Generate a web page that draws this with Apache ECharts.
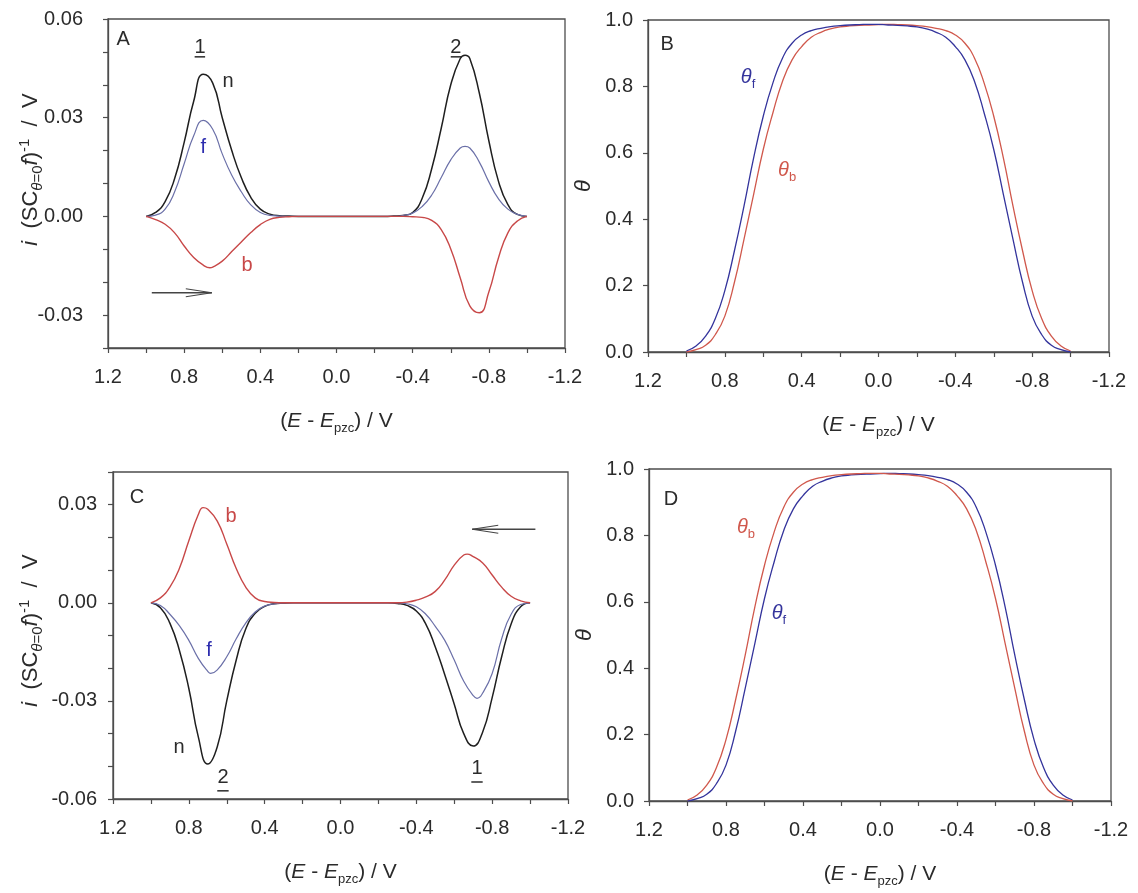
<!DOCTYPE html>
<html><head><meta charset="utf-8">
<script src="https://cdn.jsdelivr.net/npm/echarts@6/dist/echarts.min.js"></script>
<style>html,body{margin:0;padding:0;background:#fff}#c{width:1138px;height:893px}</style>
</head><body><div id="c"></div>
<script>
// ---------- data ----------
const E = [1.00,0.95,0.90,0.85,0.80,0.75,0.70,0.65,0.60,0.55,0.50,0.45,0.40,0.35,0.30,0.25,0.20,0.15,0.10,0.05,0.00,
           -0.05,-0.10,-0.15,-0.20,-0.25,-0.30,-0.35,-0.40,-0.45,-0.50,-0.55,-0.60,-0.65,-0.70,-0.75,-0.80,-0.85,-0.90,-0.95,-1.00];

// Panel A (forward scan)
const A_n = [0,0.0012,0.0045,0.0115,0.0225,0.0350,0.0432,0.0405,0.0300,0.0200,0.0118,0.0058,0.0022,0.0007,0.0002,0.0001,0,0,0,0,0,
             0,0,0,0,0,0.0001,0.0003,0.0012,0.0055,0.0145,0.0268,0.0400,0.0480,0.0480,0.0375,0.0230,0.0108,0.0036,0.0006,0];
const A_f = [0,0.0004,0.0022,0.0075,0.0160,0.0245,0.0292,0.0265,0.0190,0.0125,0.0075,0.0035,0.0012,0.0003,0.0001,0,0,0,0,0,0,
             0,0,0,0,0,0,0.0003,0.0010,0.0030,0.0065,0.0118,0.0172,0.0208,0.0208,0.0165,0.0105,0.0054,0.0022,0.0006,0];
const A_b = [0,-0.0010,-0.0024,-0.0050,-0.0090,-0.0125,-0.0148,-0.0154,-0.0136,-0.0107,-0.0078,-0.0049,-0.0025,-0.0009,-0.0003,-0.0001,0,0,0,0,0,
             0,0,0,0,0,0,0,-0.0001,-0.0003,-0.0012,-0.0040,-0.0099,-0.0187,-0.0272,-0.0293,-0.0230,-0.0127,-0.0050,-0.0014,0];
const A_n_peaks = [[-0.675, 0.0490]];
const A_f_peaks = [[-0.675, 0.0213]];
const A_b_peaks = [[0.665, -0.0156]];

// Panel B (coverage, forward scan)
const B_tf = [0.003,0.018,0.048,0.100,0.185,0.305,0.440,0.585,0.710,0.810,0.885,0.930,0.955,0.968,0.975,0.980,0.983,0.985,0.986,0.987,0.987,
              0.985,0.984,0.982,0.979,0.973,0.963,0.948,0.920,0.880,0.815,0.720,0.610,0.475,0.340,0.210,0.108,0.052,0.020,0.007,0];
const B_tb = [0,0.007,0.020,0.052,0.108,0.210,0.340,0.475,0.610,0.720,0.815,0.880,0.920,0.948,0.963,0.973,0.979,0.982,0.984,0.985,0.986,
              0.987,0.986,0.985,0.983,0.980,0.975,0.968,0.955,0.930,0.885,0.810,0.710,0.585,0.440,0.305,0.185,0.100,0.048,0.018,0.003];

// Panel C (backward scan)
const C_n = [0,-0.0015,-0.0062,-0.0145,-0.0262,-0.0410,-0.0493,-0.0440,-0.0300,-0.0175,-0.0080,-0.0032,-0.0011,-0.0003,-0.0001,0,0,0,0,0,0,
             0,0,0,0,0,-0.0002,-0.0008,-0.0025,-0.0065,-0.0135,-0.0220,-0.0310,-0.0400,-0.0438,-0.0395,-0.0290,-0.0165,-0.0065,-0.0012,0];
const C_f = [0,-0.0008,-0.0035,-0.0070,-0.0115,-0.0170,-0.0210,-0.0205,-0.0165,-0.0110,-0.0062,-0.0028,-0.0010,-0.0003,-0.0001,0,0,0,0,0,0,
             0,0,0,0,0,0,-0.0003,-0.0012,-0.0035,-0.0072,-0.0115,-0.0175,-0.0240,-0.0284,-0.0276,-0.0216,-0.0110,-0.0035,-0.0005,0];
const C_b = [0,0.0015,0.0048,0.0105,0.0190,0.0270,0.0286,0.0250,0.0180,0.0105,0.0048,0.0015,0.0004,0.0001,0,0,0,0,0,0,0,
             0,0,0,0,0,0,0.0002,0.0008,0.0018,0.0035,0.0070,0.0115,0.0146,0.0141,0.0122,0.0085,0.0048,0.0020,0.0006,0];
const C_n_peaks = [];
const C_f_peaks = [[0.685, -0.0216], [-0.720, -0.0292]];
const C_b_peaks = [[0.725, 0.0291], [-0.668, 0.0149]];

// Panel D (coverage, backward scan)
const D_tb = [0.003,0.018,0.048,0.100,0.185,0.305,0.440,0.585,0.710,0.810,0.885,0.930,0.955,0.968,0.975,0.980,0.983,0.985,0.986,0.987,0.987,
              0.985,0.984,0.982,0.979,0.973,0.963,0.948,0.920,0.880,0.815,0.720,0.610,0.475,0.340,0.210,0.108,0.052,0.020,0.007,0];
const D_tf = [0,0.007,0.020,0.052,0.108,0.210,0.340,0.475,0.610,0.720,0.815,0.880,0.920,0.948,0.963,0.973,0.979,0.982,0.984,0.985,0.986,
              0.987,0.986,0.985,0.983,0.980,0.975,0.968,0.955,0.930,0.885,0.810,0.710,0.585,0.440,0.305,0.185,0.100,0.048,0.018,0.003];

// tick labels
const xLabels  = [1.2,0.8,0.4,0.0,-0.4,-0.8,-1.2];
const yLabelsA = [0.06,0.03,0.00,-0.03];
const yLabelsC = [0.03,0.00,-0.03,-0.06];
const yLabelsT = [0.0,0.2,0.4,0.6,0.8,1.0];

// ---------- style ----------
const FONT = '"Liberation Sans", Arial, Helvetica, sans-serif';
const TXT = '#2b2b2b', AX = '#4d4d4d';
const C_BLACK = '#1f1f1f', C_BLUE_A = '#6b70a8', C_RED = '#c84848', C_BLUE = '#34349c', C_RED_T = '#d0584c';
const FS = 20;

function mkRich(main, sub, color){
  return {
    n:{fontSize:main,fontFamily:FONT,color:color,lineHeight:28},
    i:{fontSize:main,fontFamily:FONT,color:color,fontStyle:'italic',lineHeight:28},
    s:{fontSize:sub,fontFamily:FONT,color:color,lineHeight:sub+1,verticalAlign:'bottom'},
    si:{fontSize:sub,fontFamily:FONT,color:color,fontStyle:'italic',lineHeight:sub+1,verticalAlign:'bottom'},
    sup:{fontSize:sub,fontFamily:FONT,color:color,lineHeight:sub-1,verticalAlign:'top'}
  };
}
const richX = mkRich(21, 13, TXT);
const richY = mkRich(22, 15, TXT);
const xName = '{n|(}{i|E}{n| - }{i|E}{s|pzc}{n|) / V}';
const yNameCV = '{i|i}{n|  (SC}{si|θ}{s|=0}{i|f}{n|)}{sup|-1}{n|  /  V}';
const yNameT = '{i|θ}';

function fmt(list, d){ return v => { const t = list.find(t => Math.abs(t - v) < 1e-6); return t === undefined ? '' : t.toFixed(d); }; }

function xAx(g){
  return {type:'value', gridIndex:g, min:-1.2, max:1.2, interval:0.2, inverse:true,
    axisLine:{show:true,onZero:false,lineStyle:{color:AX,width:1.3}},
    axisTick:{show:true,inside:false,length:5,lineStyle:{color:AX,width:1.2}},
    axisLabel:{margin:19,fontSize:FS,color:TXT,fontFamily:FONT,formatter:fmt(xLabels,1)},
    splitLine:{show:false},
    name:xName, nameLocation:'middle', nameGap:59, nameMoveOverlap:false,
    nameTextStyle:{rich:richX}};
}
function yAx(g, min, max, interval, labels, dec, name, gap, margin, pad){
  return {type:'value', gridIndex:g, min:min, max:max, interval:interval,
    axisLine:{show:true,onZero:false,lineStyle:{color:AX,width:1.3}},
    axisTick:{show:true,inside:false,length:5,lineStyle:{color:AX,width:1.2}},
    axisLabel:{margin:margin,fontSize:FS,color:TXT,fontFamily:FONT,formatter:fmt(labels,dec)},
    splitLine:{show:false},
    name:name, nameLocation:'middle', nameGap:gap, nameRotate:90, nameMoveOverlap:false,
    nameTextStyle:{rich:richY, padding:pad}};
}
// build [E, value] pairs from the sampled values plus the read peak points, ordered along E
function pts(vals, extra){
  const d = E.map((e,i)=>[e, vals[i]]).concat(extra || []);
  d.sort((a,b)=>b[0]-a[0]);
  return d;
}
function ser(g, data, color, w, z){
  return {type:'line', xAxisIndex:g, yAxisIndex:g, data:data,
    showSymbol:false, symbol:'none', smooth:0.5, lineStyle:{color:color,width:w}, itemStyle:{color:color},
    z:z, silent:true, animation:false};
}
const gridBase = {show:true, borderColor:AX, borderWidth:1.3, containLabel:false, outerBoundsMode:'none'};

const option = {
  animation:false,
  backgroundColor:'#ffffff',
  grid:[
    Object.assign({left:108, top:19, width:457, height:329}, gridBase),
    Object.assign({left:648, top:20, width:461, height:332}, gridBase),
    Object.assign({left:113, top:472, width:455, height:327}, gridBase),
    Object.assign({left:649, top:469, width:462, height:332}, gridBase)
  ],
  xAxis:[xAx(0), xAx(1), xAx(2), xAx(3)],
  yAxis:[
    yAx(0, -0.04, 0.06, 0.01, yLabelsA, 2, yNameCV, 63, 25, [0,0,0,28]),
    yAx(1, 0, 1, 0.2, yLabelsT, 1, yNameT, 50, 15, 0),
    yAx(2, -0.06, 0.04, 0.01, yLabelsC, 2, yNameCV, 68, 16, [0,0,0,10]),
    yAx(3, 0, 1, 0.2, yLabelsT, 1, yNameT, 50, 15, 0)
  ],
  series:[
    ser(0, pts(A_n, A_n_peaks), C_BLACK, 1.5, 2), ser(0, pts(A_f, A_f_peaks), C_BLUE_A, 1.2, 3), ser(0, pts(A_b, A_b_peaks), C_RED, 1.4, 4),
    ser(1, pts(B_tb), C_RED_T, 1.3, 2), ser(1, pts(B_tf), C_BLUE, 1.3, 3),
    ser(2, pts(C_n, C_n_peaks), C_BLACK, 1.5, 2), ser(2, pts(C_f, C_f_peaks), C_BLUE_A, 1.2, 3), ser(2, pts(C_b, C_b_peaks), C_RED, 1.4, 4),
    ser(3, pts(D_tf), C_BLUE, 1.3, 2), ser(3, pts(D_tb), C_RED_T, 1.3, 3)
  ]
};

const chart = echarts.init(document.getElementById('c'), null, {renderer:'canvas'});
chart.setOption(option);

// ---------- annotations (placed in data coordinates) ----------
const texts = [
  [0, 1.12, 0.0537, '{n|A}', TXT], [0, 0.717, 0.0512, '{n|1}', TXT], [0, 0.57, 0.0409, '{n|n}', TXT],
  [0, 0.70, 0.0210, '{n|f}', '#2c2cae'], [0, 0.47, -0.0149, '{n|b}', C_RED], [0, -0.627, 0.0512, '{n|2}', TXT],
  [1, 1.10, 0.925, '{n|B}', TXT], [1, 0.679, 0.828, '{i|θ}{s|f}', C_BLUE], [1, 0.476, 0.548, '{i|θ}{s|b}', C_RED_T],
  [2, 1.073, 0.0323, '{n|C}', TXT], [2, 0.577, 0.0265, '{n|b}', C_RED], [2, 0.693, -0.0145, '{n|f}', '#2c2cae'],
  [2, 0.852, -0.0443, '{n|n}', TXT], [2, 0.62, -0.0535, '{n|2}', TXT], [2, -0.72, -0.0508, '{n|1}', TXT],
  [3, 1.086, 0.907, '{n|D}', TXT], [3, 0.696, 0.825, '{i|θ}{s|b}', C_RED_T], [3, 0.525, 0.566, '{i|θ}{s|f}', C_BLUE]
];
const underlines = [ [0, 0.745, 0.690, 0.0485], [0, -0.600, -0.655, 0.0485], [2, 0.650, 0.590, -0.0575], [2, -0.690, -0.750, -0.0548] ];
const arrows = [ [0, 0.970, 0.655, -0.0232], [2, -1.028, -0.695, 0.0225] ];

function px(g, x, y){ return chart.convertToPixel({gridIndex:g}, [x, y]); }
const graphics = [];
texts.forEach(t => {
  const p = px(t[0], t[1], t[2]);
  graphics.push({type:'text', x:p[0], y:p[1], silent:true, z:100,
    style:{text:t[3], rich:mkRich(20, 13, t[4]), fill:t[4], fontSize:20, fontFamily:FONT,
      align:'center', verticalAlign:'middle', textAlign:'center', textVerticalAlign:'middle'}});
});
underlines.forEach(u => {
  const a = px(u[0], u[1], u[3]), b = px(u[0], u[2], u[3]);
  graphics.push({type:'line', silent:true, z:100, shape:{x1:a[0], y1:a[1], x2:b[0], y2:b[1]}, style:{stroke:TXT, lineWidth:1.5}});
});
arrows.forEach(a => {
  const t0 = px(a[0], a[1], a[3]), t1 = px(a[0], a[2], a[3]);
  const dir = Math.sign(t1[0] - t0[0]);
  const hx = t1[0] - dir * 26;
  graphics.push({type:'line', silent:true, z:100, shape:{x1:t0[0], y1:t0[1], x2:t1[0], y2:t1[1]}, style:{stroke:'#444', lineWidth:1.3}});
  graphics.push({type:'line', silent:true, z:100, shape:{x1:hx, y1:t1[1]-4, x2:t1[0], y2:t1[1]}, style:{stroke:'#444', lineWidth:1.2}});
  graphics.push({type:'line', silent:true, z:100, shape:{x1:hx, y1:t1[1]+4, x2:t1[0], y2:t1[1]}, style:{stroke:'#444', lineWidth:1.2}});
});
chart.setOption({graphic:graphics});
</script>
</body></html>
